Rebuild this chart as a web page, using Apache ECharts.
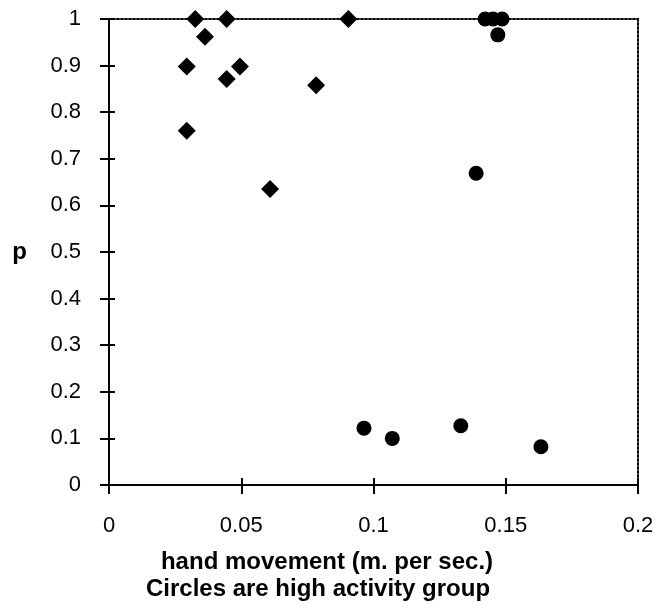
<!DOCTYPE html>
<html>
<head>
<meta charset="utf-8">
<script src="https://cdn.jsdelivr.net/npm/echarts@6/dist/echarts.min.js"></script>
<style>
  html, body { margin: 0; padding: 0; background: #fff; }
  #chart { width: 665px; height: 604px; }
</style>
</head>
<body>
<div id="chart"></div>
<script>
// low activity group (diamonds)
const lowX = [0.0326, 0.0445, 0.0905, 0.0363, 0.0294, 0.0495, 0.0445, 0.0783, 0.0294, 0.0609];
const lowP = [1, 1, 1, 0.962, 0.898, 0.898, 0.871, 0.858, 0.760, 0.635];
// high activity group (circles)
const highX = [0.1422, 0.1452, 0.1486, 0.147, 0.1388, 0.0964, 0.1071, 0.133, 0.1633];
const highP = [1, 1, 1, 0.966, 0.669, 0.122, 0.100, 0.127, 0.082];

const xTitle = 'hand movement (m. per sec.)';
const xNote = 'Circles are high activity group';
const yTitle = 'p';

const font = 'Liberation Sans, Arial, sans-serif';

function pairs(xs, ys) {
  return xs.map((x, i) => [x, ys[i]]);
}

const chart = echarts.init(document.getElementById('chart'));

// shared scale settings
const xScale = { type: 'value', min: 0, max: 0.2, interval: 0.05 };
const yScale = { type: 'value', min: 0, max: 1, interval: 0.1 };
const off = { show: false };
const dotted = { show: true, onZero: false, lineStyle: { color: '#000', width: 2, type: [2, 2] } };

chart.setOption({
  backgroundColor: '#fff',
  animation: false,
  grid: { left: 109, right: 27, top: 19, bottom: 119 },
  xAxis: [
    // main bottom axis, outward ticks
    {
      ...xScale, position: 'bottom',
      axisLine: { onZero: false, lineStyle: { color: '#000', width: 2 } },
      axisTick: { length: 9, lineStyle: { color: '#000', width: 2 } },
      axisLabel: { color: '#000', fontFamily: font, fontSize: 22, margin: 30,
        formatter: v => String(+v.toFixed(2)) },
      splitLine: off
    },
    // inward half of the crossing ticks
    {
      ...xScale, position: 'bottom',
      axisLine: { show: false, onZero: false },
      axisTick: { inside: true, length: 7, lineStyle: { color: '#000', width: 2 } },
      axisLabel: off, splitLine: off
    },
    // dotted top border
    {
      ...xScale, position: 'top',
      axisLine: dotted,
      axisTick: off, axisLabel: off, splitLine: off
    }
  ],
  yAxis: [
    {
      ...yScale, position: 'left',
      name: yTitle, nameLocation: 'middle', nameGap: 82, nameRotate: 0,
      nameTextStyle: { color: '#000', fontFamily: font, fontSize: 24, fontWeight: 'bold' },
      axisLine: { onZero: false, lineStyle: { color: '#000', width: 2 } },
      axisTick: { length: 9, lineStyle: { color: '#000', width: 2 } },
      axisLabel: { color: '#000', fontFamily: font, fontSize: 22, margin: 28,
        formatter: v => String(+v.toFixed(1)) },
      splitLine: off
    },
    {
      ...yScale, position: 'left',
      axisLine: { show: false, onZero: false },
      axisTick: { inside: true, length: 6, lineStyle: { color: '#000', width: 2 } },
      axisLabel: off, splitLine: off
    },
    // dotted right border
    {
      ...yScale, position: 'right',
      axisLine: dotted,
      axisTick: off, axisLabel: off, splitLine: off
    }
  ],
  graphic: [
    {
      type: 'text', x: 327, y: 562,
      style: { text: xTitle, fill: '#000', font: 'bold 24px ' + font,
        textAlign: 'center', textVerticalAlign: 'middle' }
    },
    {
      type: 'text', x: 318, y: 589,
      style: { text: xNote, fill: '#000', font: 'bold 24px ' + font,
        textAlign: 'center', textVerticalAlign: 'middle' }
    }
  ],
  series: [
    {
      type: 'scatter', name: 'low activity',
      symbol: 'diamond', symbolSize: 18,
      itemStyle: { color: '#000', opacity: 1 },
      data: pairs(lowX, lowP), z: 5
    },
    {
      type: 'scatter', name: 'high activity',
      symbol: 'circle', symbolSize: 15,
      itemStyle: { color: '#000', opacity: 1 },
      data: pairs(highX, highP), z: 5
    }
  ]
});
</script>
</body>
</html>
